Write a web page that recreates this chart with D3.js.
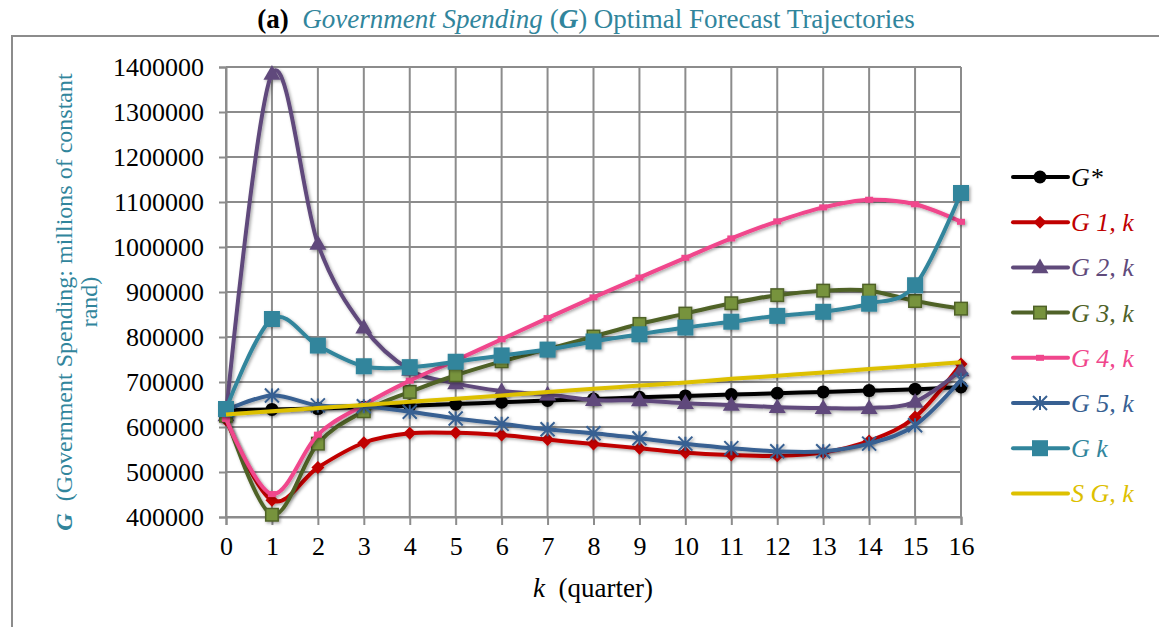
<!DOCTYPE html>
<html>
<head>
<meta charset="utf-8">
<script src="https://cdn.jsdelivr.net/npm/d3@7"></script>
<style>
  body { margin: 0; background: #fff; }
  svg { display: block; font-family: "Liberation Serif", "Times New Roman", serif; }
</style>
</head>
<body>
<div id="chart"></div>
<script>
// Quarters on the x axis
const quarters = [0, 1, 2, 3, 4, 5, 6, 7, 8, 9, 10, 11, 12, 13, 14, 15, 16];
const yTicks = [400000, 500000, 600000, 700000, 800000, 900000, 1000000, 1100000, 1200000, 1300000, 1400000];

// Series values
const gStar = [638000, 639000, 641000, 644000, 647000, 651000, 655000, 659000, 662000, 666000, 669000, 672000, 675000, 678000, 681000, 684000, 689000];
const g1 = [616000, 437000, 510000, 565000, 586000, 587000, 582000, 572000, 562000, 553000, 543000, 538000, 536000, 543000, 569000, 622000, 740000];
const g2 = [626000, 1385000, 1007000, 821000, 727000, 697000, 680000, 672000, 660000, 659000, 653000, 649000, 644000, 642000, 642000, 656000, 726000];
const g3 = [625000, 405000, 563000, 635000, 678000, 715000, 746000, 773000, 801000, 829000, 852000, 875000, 893000, 903000, 903000, 880000, 863000];
const g4 = [618000, 451000, 583000, 649000, 703000, 748000, 795000, 842000, 888000, 932000, 976000, 1019000, 1057000, 1088000, 1105000, 1095000, 1056000];
const g5 = [637000, 670000, 648000, 646000, 634000, 619000, 607000, 595000, 586000, 575000, 563000, 553000, 546000, 546000, 563000, 604000, 705000];
const gk = [640000, 840000, 781000, 735000, 733000, 745000, 759000, 772000, 790000, 806000, 821000, 834000, 847000, 856000, 874000, 915000, 1120000];
const sgk = [628000, 635000, 642000, 649000, 656000, 663000, 670000, 678000, 685000, 692000, 699000, 707000, 714000, 721000, 729000, 736000, 744000];

const seriesNames = ["G*", "G 1, k", "G 2, k", "G 3, k", "G 4, k", "G 5, k", "G k", "S G, k"];
const seriesValues = [gStar, g1, g2, g3, g4, g5, gk, sgk];
const lineColors = ["#000000", "#C00000", "#604A7B", "#4F6228", "#F0468C", "#376092", "#31859C", "#DDC000"];
const markerFills = ["#000000", "#C00000", "#604A7B", "#77933C", "#F0468C", "#376092", "#31859C", "none"];
const markerTypes = ["circle", "diamond", "triangle", "square", "dash", "star", "bigsquare", "none"];

const width = 1159, height = 627;
const plot = { left: 226, right: 961, top: 67, bottom: 517 };

const svg = d3.select("#chart").append("svg")
    .attr("width", width)
    .attr("height", height);

// soft shadow like the original
const defs = svg.append("defs");
defs.append("filter")
    .attr("id", "shadow")
    .attr("x", "-20%").attr("y", "-20%").attr("width", "140%").attr("height", "140%")
    .append("feDropShadow")
    .attr("dx", 1.5).attr("dy", 1.5)
    .attr("stdDeviation", 1.5)
    .attr("flood-color", "#000")
    .attr("flood-opacity", 0.35);

// outer chart frame
svg.append("path")
    .attr("d", `M12,${height} L12,36 L${width},36`)
    .attr("fill", "none")
    .attr("stroke", "#8c8c8c")
    .attr("stroke-width", 2);

// title
const title = svg.append("text")
    .attr("x", 586)
    .attr("y", 28)
    .attr("text-anchor", "middle")
    .style("font-size", "27px")
    .attr("fill", "#31859C");
title.append("tspan").attr("fill", "#000").attr("font-weight", "bold").text("(a)");
title.append("tspan").attr("font-style", "italic").text("\u00a0\u00a0Government Spending ");
title.append("tspan").text("(");
title.append("tspan").attr("font-style", "italic").attr("font-weight", "bold").text("G");
title.append("tspan").text(") Optimal Forecast Trajectories");

const x = d3.scaleLinear().domain([0, 16]).range([plot.left, plot.right]);
const y = d3.scaleLinear().domain([400000, 1400000]).range([plot.bottom, plot.top]);

// grid
const grid = svg.append("g").attr("stroke", "#8c8c8c").attr("stroke-width", 2);
grid.selectAll(".hg").data(yTicks).enter().append("line")
    .attr("x1", plot.left).attr("x2", plot.right)
    .attr("y1", d => y(d)).attr("y2", d => y(d));
grid.selectAll(".vg").data(quarters).enter().append("line")
    .attr("x1", d => x(d)).attr("x2", d => x(d))
    .attr("y1", plot.top).attr("y2", plot.bottom);

// axes
const yAxis = svg.append("g")
    .attr("transform", `translate(${plot.left},0)`)
    .call(d3.axisLeft(y).tickValues(yTicks).tickFormat(d3.format("d")).tickSize(7).tickPadding(15));
const xAxis = svg.append("g")
    .attr("transform", `translate(0,${plot.bottom})`)
    .call(d3.axisBottom(x).tickValues(quarters).tickFormat(d3.format("d")).tickSize(8).tickPadding(12));
[yAxis, xAxis].forEach(ax => {
    ax.select(".domain").attr("stroke", "#8c8c8c").attr("stroke-width", 2);
    ax.selectAll(".tick line").attr("stroke", "#8c8c8c").attr("stroke-width", 2);
    ax.selectAll(".tick text")
        .attr("fill", "#000")
        .style("font-family", "'Liberation Serif', 'Times New Roman', serif")
        .style("font-size", "26px");
});

// axis titles
const xTitle = svg.append("text")
    .attr("x", 593)
    .attr("y", 597)
    .attr("text-anchor", "middle")
    .style("font-size", "27px");
xTitle.append("tspan").attr("font-style", "italic").text("k");
xTitle.append("tspan").text("\u00a0 (quarter)");

const yTitle = svg.append("text")
    .attr("transform", "translate(72,302) rotate(-90)")
    .attr("text-anchor", "middle")
    .attr("fill", "#31859C")
    .style("font-size", "24px");
yTitle.append("tspan").attr("font-style", "italic").attr("font-weight", "bold").text("G");
yTitle.append("tspan").text("\u00a0 (Government Spending: millions of constant");
svg.append("text")
    .attr("transform", "translate(97,302) rotate(-90)")
    .attr("text-anchor", "middle")
    .attr("fill", "#31859C")
    .style("font-size", "24px")
    .text("rand)");

// marker drawing
function drawMarker(g, type, cx, cy, stroke, fill) {
    if (type === "circle") {
        g.append("circle").attr("cx", cx).attr("cy", cy).attr("r", 6.5).attr("fill", fill);
    } else if (type === "diamond") {
        g.append("rect").attr("x", -4.6).attr("y", -4.6).attr("width", 9.2).attr("height", 9.2)
            .attr("transform", `translate(${cx},${cy}) rotate(45)`).attr("fill", fill);
    } else if (type === "triangle") {
        g.append("path").attr("d", d3.symbol(d3.symbolTriangle, 125)()).attr("transform", `translate(${cx},${cy + 1})`).attr("fill", fill);
    } else if (type === "square" || type === "bigsquare") {
        const big = type === "bigsquare";
        const s = big ? 16 : 12.5;
        g.append("rect").attr("x", cx - s / 2).attr("y", cy - s / 2).attr("width", s).attr("height", s)
            .attr("fill", fill).attr("stroke", stroke).attr("stroke-width", big ? 0 : 1.5);
    } else if (type === "dash") {
        g.append("rect").attr("x", cx - 4).attr("y", cy - 3).attr("width", 8).attr("height", 6).attr("fill", fill);
    } else if (type === "star") {
        const r = 7;
        const p = `M${cx - r},${cy - r}L${cx + r},${cy + r}M${cx - r},${cy + r}L${cx + r},${cy - r}M${cx},${cy - r}L${cx},${cy + r}`;
        g.append("path").attr("d", p).attr("stroke", stroke).attr("stroke-width", 2).attr("fill", "none");
    }
}

const line = d3.line()
    .x((d, i) => x(quarters[i]))
    .y(d => y(d))
    .curve(d3.curveCatmullRom.alpha(0));

// series in legend order (later ones drawn on top)
seriesValues.forEach((vals, si) => {
    const g = svg.append("g").attr("filter", "url(#shadow)");
    g.append("path")
        .datum(vals)
        .attr("d", line)
        .attr("fill", "none")
        .attr("stroke", lineColors[si])
        .attr("stroke-width", 4)
        .attr("stroke-linejoin", "round");
    vals.forEach((v, i) => drawMarker(g, markerTypes[si], x(quarters[i]), y(v), lineColors[si], markerFills[si]));
});

// legend
const legend = svg.append("g");
seriesNames.forEach((name, si) => {
    const ly = 177 + si * 45.2;
    const lg = legend.append("g");
    lg.append("line")
        .attr("x1", 1013).attr("x2", 1068)
        .attr("y1", ly).attr("y2", ly)
        .attr("stroke", lineColors[si])
        .attr("stroke-width", 4)
        .attr("stroke-linecap", "round");
    drawMarker(lg, markerTypes[si], 1040, ly, lineColors[si], markerFills[si]);
    lg.append("text")
        .attr("x", 1071)
        .attr("y", ly + 9)
        .attr("fill", lineColors[si])
        .attr("font-style", "italic")
        .style("font-size", "26px")
        .text(name);
});
</script>
</body>
</html>
